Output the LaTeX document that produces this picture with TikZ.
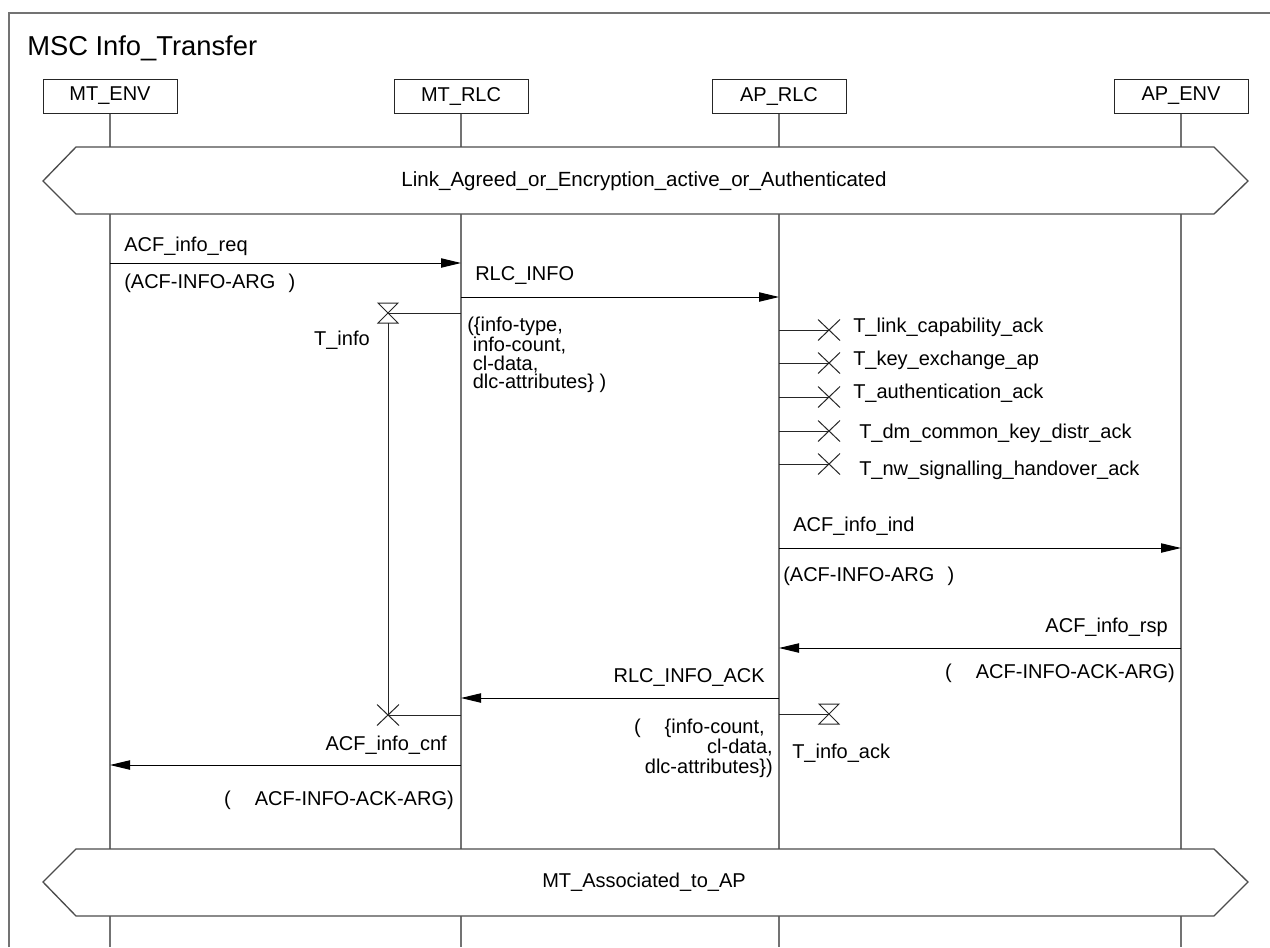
\documentclass[tikz,border=0pt]{standalone}
\usepackage{fontspec}
\setmainfont{Liberation Sans}
\usetikzlibrary{arrows.meta}
\begin{document}
\begin{tikzpicture}[x=0.75pt,y=-0.75pt,
  every node/.style={inner sep=0pt, font=\fontsize{15}{15}\selectfont},
  inst/.style={draw=black!85, line width=0.75pt, minimum width=100.5pt, minimum height=25.5pt, fill=white},
  life/.style={draw=black!55, line width=0.9pt},
  msg/.style={draw=black, line width=0.75pt, -{Triangle[length=15pt,width=7pt]}},
  tline/.style={draw=black!85, line width=0.75pt},
  cond/.style={draw=black!70, line width=1pt, fill=white},
  hglass/.pic={\draw[tline] (-10,-10) -- (10,-10) -- (-10,10) -- (10,10) -- cycle;},
  tcross/.pic={\draw[tline] (-11,-10.5) -- (11,10.5) (-11,10.5) -- (11,-10.5);},
]
\useasboundingbox (0,0) rectangle (1270,947);

% frame of the chart (open to the right and bottom)
\draw[black!55, line width=1.1pt] (9,947) -- (9,13) -- (1270,13);
\node[anchor=base west, font=\fontsize{20.5}{21}\selectfont] (title) at (27,55) {MSC Info\_Transfer};

% instances and lifelines
\node[inst] (mtenv) at (110,96) {MT\_ENV};
\node[inst] (mtrlc) at (461,96) {MT\_RLC};
\node[inst] (aprlc) at (779,96) {AP\_RLC};
\node[inst] (apenv) at (1181,96) {AP\_ENV};
\foreach \n in {mtenv,mtrlc,aprlc,apenv}
  \draw[life] (\n.south) -- (\n.south |- 0,947);

% condition: link established
\draw[cond] (43,181) -- (76,147) -- (1214,147) -- (1248,181) -- (1214,214) -- (76,214) -- cycle;
\node[font=\fontsize{15.4}{15}\selectfont] (cond1) at (644,181) {Link\_Agreed\_or\_Encryption\_active\_or\_Authenticated};

% ACF_info_req
\draw[msg] (mtenv.south |- 0,263) -- (mtrlc.south |- 0,263);
\node[anchor=west] (m1) at (124,246) {ACF\_info\_req};
\node[anchor=west] (m1p) at (124,283) {(ACF-INFO-ARG\hspace{10pt})};

% RLC_INFO
\draw[msg] (mtrlc.south |- 0,297) -- (aprlc.south |- 0,297);
\node[anchor=west] (m2) at (475,275) {RLC\_INFO};
\node[anchor=north west, align=left, font=\fontsize{15}{13.8}\selectfont] (m2p) at (467,317)
  {(\{info-type,\\ \ info-count,\\ \ cl-data,\\ \ dlc-attributes\} )};

% timer T_info started on MT_RLC
\coordinate (tinfo) at (388,313);
\coordinate (tinfoEnd) at (388,715);
\draw[tline] (mtrlc.south |- tinfo) -- (tinfo);
\pic at (tinfo) {hglass};
\draw[tline] ([yshift=-7.5pt]tinfo) -- (tinfoEnd);
\node[anchor=east] (tinfoLbl) at (370,340) {T\_info};

% timers stopped on AP_RLC
\foreach \ty/\ly/\lx/\txt [count=\i] in {
    330/327/853/T\_link\_capability\_ack,
    363/360/853/T\_key\_exchange\_ap,
    397/393/853/T\_authentication\_ack,
    431/433/859/T\_dm\_common\_key\_distr\_ack,
    464/470/859/T\_nw\_signalling\_handover\_ack}{
  \coordinate (tstop\i) at (829,\ty);
  \draw[tline] (aprlc.south |- tstop\i) -- (tstop\i);
  \pic at (tstop\i) {tcross};
  \node[anchor=west] (tstopLbl\i) at (\lx,\ly) {\txt};
}

% ACF_info_ind
\draw[msg] (aprlc.south |- 0,548) -- (apenv.south |- 0,548);
\node[anchor=west] (m3) at (793,526) {ACF\_info\_ind};
\node[anchor=west] (m3p) at (783,576) {(ACF-INFO-ARG\hspace{10pt})};

% ACF_info_rsp
\draw[msg] (apenv.south |- 0,648) -- (aprlc.south |- 0,648);
\node[anchor=east] (m4) at (1168,627) {ACF\_info\_rsp};
\node[anchor=east] (m4p) at (1175,673) {(\hspace{18pt}ACF-INFO-ACK-ARG)};

% RLC_INFO_ACK
\draw[msg] (aprlc.south |- 0,698) -- (mtrlc.south |- 0,698);
\node[anchor=east] (m5) at (765,677) {RLC\_INFO\_ACK};
\node[anchor=north east, align=right, font=\fontsize{15}{15}\selectfont] (m5p) at (773,719)
  {(\hspace{18pt}\{info-count,\hspace*{6pt}\\ cl-data,\hspace*{6pt}\\ dlc-attributes\})};

% timer T_info_ack started on AP_RLC
\coordinate (tack) at (829,714);
\draw[tline] (aprlc.south |- tack) -- (tack);
\pic at (tack) {hglass};
\node[anchor=west] (tackLbl) at (792,753) {T\_info\_ack};

% timer T_info stopped on MT_RLC
\draw[tline] (mtrlc.south |- tinfoEnd) -- (tinfoEnd);
\pic at (tinfoEnd) {tcross};

% ACF_info_cnf
\draw[msg] (mtrlc.south |- 0,765) -- (mtenv.south |- 0,765);
\node[anchor=east] (m6) at (447,745) {ACF\_info\_cnf};
\node[anchor=east] (m6p) at (454,800) {(\hspace{18pt}ACF-INFO-ACK-ARG)};

% condition: association reached
\draw[cond] (43,882) -- (76,849) -- (1214,849) -- (1248,882) -- (1214,916) -- (76,916) -- cycle;
\node (cond2) at (644,882) {MT\_Associated\_to\_AP};
\end{tikzpicture}
\end{document}
